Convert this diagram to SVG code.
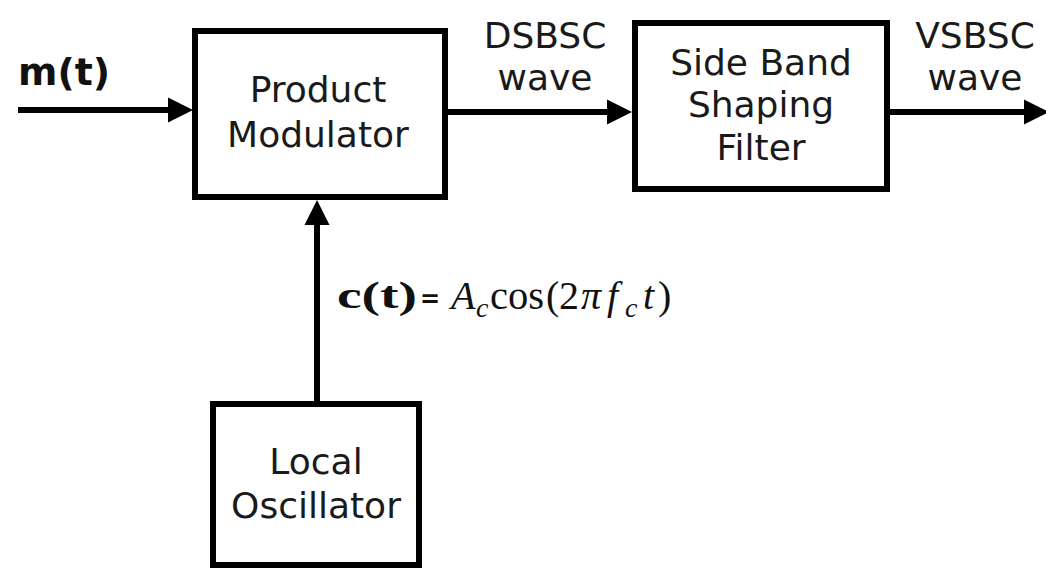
<svg xmlns="http://www.w3.org/2000/svg" width="1046" height="569" viewBox="0 0 1046 569">
<defs>
<style>
.box{fill:#fff;stroke:#000;stroke-width:6}
.lbl{font-family:"DejaVu Sans",Verdana,sans-serif;font-size:36px;fill:#1a1a1a;text-anchor:middle}
.wire{stroke:#000;stroke-width:6;fill:none}
.mt{font-family:"DejaVu Sans",Verdana,sans-serif;font-size:38px;font-weight:bold;fill:#111}
.ser{font-family:"Liberation Serif","DejaVu Serif",serif;fill:#111}
.it{font-style:italic}
</style>
<marker id="ah" markerUnits="userSpaceOnUse" markerWidth="26" markerHeight="26" refX="0" refY="12.5" orient="auto" overflow="visible">
<path d="M0,0 L25,12.5 L0,25 Z" fill="#000"/>
</marker>
</defs>
<rect width="1046" height="569" fill="#fff"/>
<g id="connectors">
<line class="wire" x1="18" y1="110" x2="168" y2="110" marker-end="url(#ah)"/>
<line class="wire" x1="448" y1="112" x2="607" y2="112" marker-end="url(#ah)"/>
<line class="wire" x1="890" y1="112" x2="1024" y2="112" marker-end="url(#ah)"/>
<line class="wire" x1="317" y1="401" x2="317" y2="225" marker-end="url(#ah)"/>
</g>
<g id="product-modulator">
<rect class="box" x="195" y="31" width="250" height="166"/>
<text class="lbl" x="318" y="102">Product</text>
<text class="lbl" x="318" y="147">Modulator</text>
</g>
<g id="side-band-filter">
<rect class="box" x="635" y="23" width="252" height="166"/>
<text class="lbl" x="761" y="75">Side Band</text>
<text class="lbl" x="761" y="117">Shaping</text>
<text class="lbl" x="761" y="160">Filter</text>
</g>
<g id="local-oscillator">
<rect class="box" x="213" y="404" width="206" height="161"/>
<text class="lbl" x="316" y="474">Local</text>
<text class="lbl" x="316" y="518">Oscillator</text>
</g>
<g id="labels">
<text class="mt" x="18" y="85" textLength="92" lengthAdjust="spacingAndGlyphs">m(t)</text>
<text class="lbl" x="545" y="48">DSBSC</text>
<text class="lbl" x="545" y="90">wave</text>
<text class="lbl" x="975" y="48">VSBSC</text>
<text class="lbl" x="975" y="90">wave</text>
<text class="ser" x="337" y="308" font-size="38" font-weight="bold" textLength="80" lengthAdjust="spacingAndGlyphs">c(t)</text>
<text x="420" y="307" font-family="DejaVu Sans,sans-serif" font-size="24" font-weight="bold" fill="#111">=</text>
<g class="ser" font-size="40">
<text class="it" x="451" y="309">A</text>
<text class="it" x="476" y="317" font-size="28">c</text>
<text x="490" y="309" textLength="54" lengthAdjust="spacingAndGlyphs">cos</text>
<text x="546" y="309">(</text>
<text x="559" y="309">2</text>
<text class="it" x="581" y="309">π</text>
<text class="it" x="607" y="309">f</text>
<text class="it" x="625" y="317" font-size="28">c</text>
<text class="it" x="643" y="309">t</text>
<text x="658" y="309">)</text>
</g>
</g>
</svg>
